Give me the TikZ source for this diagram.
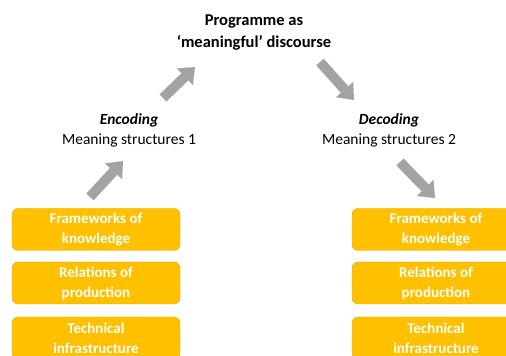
\documentclass[tikz,border=0pt]{standalone}
\usepackage{fontspec}
\setmainfont{Carlito}
\usepackage{tikz}
\usetikzlibrary{arrows.meta}
\definecolor{boxgold}{HTML}{FFC000}
\definecolor{boxedge}{HTML}{E3AA00}
\definecolor{arrowgray}{HTML}{A3A3A3}
\tikzset{
    factorbox/.style={draw=boxedge, fill=boxgold, rounded corners=6pt, minimum width=168pt, minimum height=42pt,
        inner sep=0pt, text=white, align=center, font=\fontsize{15}{20}\selectfont\bfseries},
    headlabel/.style={align=center, font=\fontsize{16.5}{22}\selectfont\bfseries},
    sidelabel/.style={align=center, font=\fontsize{15.5}{20}\selectfont},
    blockarrow/.style={draw=arrowgray, line width=10pt, -{Triangle[width=23pt, length=14pt, line width=0.01pt]}}
}

\begin{document}
\begin{tikzpicture}[x=1pt, y=1pt]
            \useasboundingbox (0,0) rectangle (506,356);
            \clip (0,0) rectangle (506,356);

            % programme
            \node[headlabel] (prog) at (254,323) {Programme as\\‘meaningful’ discourse};

            % encoding side
            \node[sidelabel] (enc) at (129,226) {\textbf{\textit{Encoding}}\\Meaning structures 1};
            \node[factorbox] (lk1) at (96,126.5) {Frameworks of\\knowledge};
            \node[factorbox] (lk2) at (96,73) {Relations of\\production};
            \node[factorbox] (lk3) at (96,18) {Technical\\infrastructure};

            % decoding side
            \node[sidelabel] (dec) at (389,226) {\textbf{\textit{Decoding}}\\Meaning structures 2};
            \node[factorbox] (rk1) at (436,126.5) {Frameworks of\\knowledge};
            \node[factorbox] (rk2) at (436,73) {Relations of\\production};
            \node[factorbox] (rk3) at (436,18) {Technical\\infrastructure};

            % arrows
            \coordinate (a1s) at (163,258); \coordinate (a1e) at (195,289);
            \coordinate (a2s) at (320,294); \coordinate (a2e) at (354,256);
            \coordinate (a3s) at (90,159);  \coordinate (a3e) at (123,195);
            \coordinate (a4s) at (400,194); \coordinate (a4e) at (435,158);
            \foreach \k in {1,...,4}
                \draw[blockarrow] (a\k s) -- (a\k e);
        \end{tikzpicture}
\end{document}
